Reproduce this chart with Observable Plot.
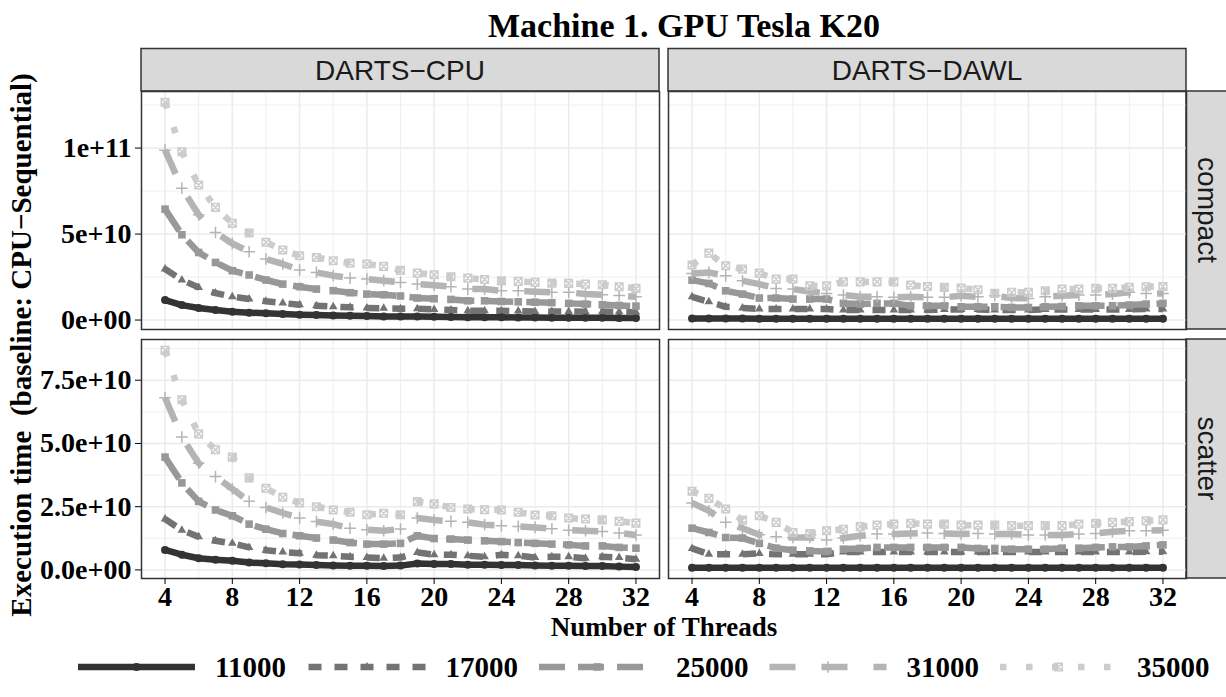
<!DOCTYPE html>
<html><head><meta charset="utf-8">
<script src="https://cdn.jsdelivr.net/npm/d3@7"></script>
<script src="https://cdn.jsdelivr.net/npm/@observablehq/plot@0.6"></script>
<style>
body{margin:0;background:#fff;}
#root{position:relative;width:1226px;height:697px;overflow:hidden;background:#fff;}
#root svg.panel{position:absolute;overflow:visible;background:transparent;}
#overlay{position:absolute;left:0;top:0;}
</style></head><body><div id="root"></div>
<script>
// ---------------- data (values in units of 1e9) ----------------
const threads = [4,5,6,7,8,9,10,11,12,13,14,15,16,17,18,19,20,21,22,23,24,25,26,27,28,29,30,31,32];
const sizes = ["11000","17000","25000","31000","35000"];
const facets = ["DARTS\u2212CPU","DARTS\u2212DAWL"];
const rows = ["compact","scatter"];

const cpuCompact11000 = [11.6,8.7,7.0,5.8,4.8,4.3,3.9,3.5,3.1,2.9,2.7,2.5,2.3,2.1,2.1,2.0,1.9,1.8,1.7,1.7,1.6,1.5,1.5,1.4,1.4,1.3,1.3,1.2,1.2];
const cpuCompact17000 = [29.7,23.3,19.0,15.7,13.6,12.2,10.9,9.9,8.9,8.3,7.8,7.4,7.0,6.8,6.6,6.6,6.2,5.8,5.4,5.4,5.4,5.2,5.0,5.0,5.0,4.8,4.8,4.8,4.6];
const cpuCompact25000 = [64.5,49.6,39.3,33.5,28.7,26.2,23.3,20.9,19.4,18.0,17.1,15.9,15.1,14.7,14.0,12.8,12.4,12.0,11.2,11.2,10.8,10.6,10.4,10.1,9.7,9.3,8.9,8.5,8.1];
const cpuCompact31000 = [98.8,76.7,61.2,50.9,44.5,39.7,35.5,32.6,29.1,27.7,25.8,24.4,23.8,22.9,21.9,20.9,20.3,19.4,18.0,18.0,17.0,17.0,16.5,16.1,16.1,15.1,14.7,14.3,13.5];
const cpuCompact35000 = [126.6,97.9,78.5,65.5,56.2,50.6,45.2,40.7,37.4,36.4,34.5,33.1,32.6,31.2,28.9,27.3,26.3,25.2,24.4,23.6,22.8,22.5,21.9,21.5,21.3,20.9,20.5,19.4,18.4];

const dawlCompact11000 = [0.9,0.9,0.85,0.85,0.8,0.8,0.8,0.8,0.8,0.8,0.8,0.8,0.8,0.8,0.8,0.8,0.8,0.8,0.8,0.8,0.8,0.8,0.8,0.8,0.8,0.8,0.8,0.8,0.8];
const dawlCompact17000 = [13.5,10.6,7.7,7.0,6.4,6.4,6.4,6.4,6.4,5.8,5.8,5.8,5.8,5.8,5.8,6.2,6.2,6.2,5.8,5.8,5.8,6.2,6.2,6.2,6.2,6.2,6.2,6.4,6.4];
const dawlCompact25000 = [23.2,21.3,17.0,15.1,12.8,12.8,12.2,12.2,12.2,9.7,9.3,9.7,9.7,8.3,8.3,8.3,7.7,7.7,7.7,7.3,7.3,7.7,7.9,8.3,8.3,8.3,8.7,9.3,9.7];
const dawlCompact31000 = [27.1,27.7,25.7,22.8,20.9,18.4,18.0,16.6,15.5,14.5,13.5,13.5,13.2,13.5,13.2,13.2,14.1,13.5,14.1,12.8,12.6,13.5,14.1,14.5,14.5,15.1,16.1,15.5,15.5];
const dawlCompact35000 = [32.0,38.9,31.6,29.6,27.3,23.8,23.8,19.9,19.9,22.2,22.2,22.2,22.2,20.3,19.5,19.0,18.6,17.6,15.5,16.1,16.1,17.0,18.0,18.0,18.4,18.4,19.0,19.4,19.5];

const cpuScatter11000 = [7.9,6.0,4.6,4.0,3.6,2.9,2.6,2.2,2.1,1.9,1.7,1.6,1.6,1.5,1.7,2.5,2.3,2.3,2.0,2.0,1.9,1.9,1.7,1.6,1.6,1.5,1.5,1.3,1.2];
const cpuScatter17000 = [20.1,15.7,13.1,11.5,10.5,8.9,7.8,7.1,6.6,5.8,5.6,5.2,4.9,4.6,4.9,6.9,6.0,6.0,5.6,5.2,6.0,5.6,4.9,5.2,5.2,4.6,5.2,4.9,4.2];
const cpuScatter25000 = [44.6,34.4,27.1,23.7,21.4,18.1,16.1,14.4,13.5,12.6,11.8,10.8,10.2,10.2,10.5,13.5,12.4,12.2,11.8,11.5,11.2,10.8,10.5,10.2,9.9,9.5,9.5,8.9,8.6];
const cpuScatter31000 = [68.1,52.5,42.2,36.9,32.0,27.1,24.7,22.5,20.5,19.1,18.1,16.5,15.9,15.5,16.2,20.5,19.7,19.2,18.8,17.9,17.5,17.2,16.8,16.3,15.7,15.5,15.2,14.6,13.8];
const cpuScatter35000 = [86.8,67.3,53.8,47.5,44.6,36.4,32.3,28.7,26.5,25.0,23.7,22.8,21.8,22.4,21.8,27.0,26.1,24.7,24.1,23.8,23.7,22.8,21.7,21.4,20.5,20.1,19.8,19.2,18.5];

const dawlScatter11000 = [0.9,0.9,0.9,0.9,0.9,0.9,0.9,0.9,0.9,0.9,0.9,0.9,0.9,0.9,0.9,0.9,0.9,0.9,0.9,0.9,0.9,0.9,0.9,0.9,0.9,0.9,0.9,0.9,0.9];
const dawlScatter17000 = [8.5,6.2,6.2,6.2,6.5,6.2,6.2,6.2,6.2,7.1,7.1,7.1,7.1,7.1,7.1,7.1,7.1,7.1,7.1,7.1,7.1,7.1,7.1,7.1,7.1,7.1,7.1,7.2,7.2];
const dawlScatter25000 = [16.5,14.8,12.8,12.6,10.5,8.6,7.8,7.5,7.3,8.2,8.5,8.9,8.9,8.9,8.9,8.9,8.9,8.5,8.5,8.2,8.2,8.2,8.6,8.6,8.9,9.1,9.1,9.5,9.9];
const dawlScatter31000 = [26.5,23.4,18.8,16.5,13.9,13.1,12.8,12.8,11.8,12.6,13.5,14.2,14.2,14.4,14.6,14.4,14.2,14.4,14.2,14.2,13.8,13.8,13.8,14.2,14.4,15.1,15.5,15.5,15.7];
const dawlScatter35000 = [31.1,28.3,24.1,19.7,21.4,18.8,14.8,14.4,15.5,16.1,17.1,17.7,18.1,18.4,18.1,18.1,17.7,17.7,17.7,17.5,17.5,17.5,17.5,18.1,18.4,18.8,19.1,19.4,19.8];

// tick values and labels
const xTicks = [4,8,12,16,20,24,28,32];
const xMinor = [6,10,14,18,22,26,30];
const yTicksCompact = [0,5e10,1e11];
const yLabelsCompact = ["0e+00","5e+10","1e+11"];
const yMinorCompact = [2.5e10,7.5e10,1.25e11];
const yTicksScatter = [0,2.5e10,5e10,7.5e10];
const yLabelsScatter = ["0.0e+00","2.5e+10","5.0e+10","7.5e+10"];
const yMinorScatter = [1.25e10,3.75e10,6.25e10,8.75e10];

// ---------------- styles ----------------
const colors = ["#333333","#737373","#989898","#b4b4b4","#cccccc"];
const LW = 6.5;
const dashes = [null, `${2*LW},${2*LW}`, `${4*LW},${2*LW}`, `${4*LW},${4*LW}`, `${LW},${3*LW}`];
const SERIF = "'Liberation Serif','Times New Roman',serif";
const SANS = "'Liberation Sans',Arial,sans-serif";

const rad = s => Math.sqrt(s/Math.PI);
const symTri = {draw(c,s){const r=rad(s)*1.25;c.moveTo(0,-r);c.lineTo(r*0.866,r*0.5);c.lineTo(-r*0.866,r*0.5);c.closePath();}};
const symSq = {draw(c,s){const r=rad(s)*0.95;c.moveTo(-r,-r);c.lineTo(r,-r);c.lineTo(r,r);c.lineTo(-r,r);c.closePath();}};
const symPlus = {draw(c,s){const r=rad(s)*1.45;c.moveTo(-r,0);c.lineTo(r,0);c.moveTo(0,-r);c.lineTo(0,r);}};
const symSqX = {draw(c,s){const r=rad(s)*0.95;c.moveTo(-r,-r);c.lineTo(r,-r);c.lineTo(r,r);c.lineTo(-r,r);c.closePath();c.moveTo(-r,-r);c.lineTo(r,r);c.moveTo(r,-r);c.lineTo(-r,r);}};
const symbols = ["circle", symTri, symSq, symPlus, symSqX];
const filled = [true, true, true, false, false];

// ---------------- tables ----------------
const series = {
  "DARTS\u2212CPU|compact": [cpuCompact11000,cpuCompact17000,cpuCompact25000,cpuCompact31000,cpuCompact35000],
  "DARTS\u2212DAWL|compact": [dawlCompact11000,dawlCompact17000,dawlCompact25000,dawlCompact31000,dawlCompact35000],
  "DARTS\u2212CPU|scatter": [cpuScatter11000,cpuScatter17000,cpuScatter25000,cpuScatter31000,cpuScatter35000],
  "DARTS\u2212DAWL|scatter": [dawlScatter11000,dawlScatter17000,dawlScatter25000,dawlScatter31000,dawlScatter35000]
};
function table(key){
  const out=[];
  series[key].forEach((arr,si)=>arr.forEach((v,i)=>out.push({threads:threads[i], value:v*1e9, size:sizes[si]})));
  return out;
}
function expand(lo,hi){const r=hi-lo;return [lo-0.05*r, hi+0.05*r];}
const xDomain = expand(d3.min(threads), d3.max(threads));
const yDomains = {};
rows.forEach(r=>{
  const all = facets.flatMap(f=>table(f+"|"+r));
  yDomains[r] = expand(d3.min(all,d=>d.value), d3.max(all,d=>d.value));
});

// ---------------- layout ----------------
const root = document.getElementById("root");
const panelX = {"DARTS\u2212CPU":141, "DARTS\u2212DAWL":668};
const panelY = {compact:91, scatter:339};
const PW = 518, PH = {compact:238, scatter:239};

// overlay (title, strips, axis titles, legend)
const ov = d3.select(root).append("svg").attr("id","overlay").attr("width",1226).attr("height",697);
ov.append("text").attr("x",684).attr("y",37).attr("text-anchor","middle")
  .attr("font-family",SERIF).attr("font-weight","bold").attr("font-size",34).attr("fill","#000")
  .text("Machine 1. GPU Tesla K20");
facets.forEach(f=>{
  ov.append("rect").attr("x",panelX[f]).attr("y",48.5).attr("width",PW).attr("height",42.5)
    .attr("fill","#d9d9d9").attr("stroke","#333").attr("stroke-width",1.5);
  ov.append("text").attr("x",panelX[f]+PW/2).attr("y",70).attr("text-anchor","middle").attr("dominant-baseline","central")
    .attr("font-family",SANS).attr("font-size",28).attr("fill","#1a1a1a").text(f);
});
rows.forEach(r=>{
  ov.append("rect").attr("x",1186).attr("y",panelY[r]).attr("width",42).attr("height",PH[r])
    .attr("fill","#d9d9d9").attr("stroke","#333").attr("stroke-width",1.5);
  const cx=1207, cy=panelY[r]+PH[r]/2;
  ov.append("text").attr("transform",`translate(${cx},${cy}) rotate(90)`).attr("text-anchor","middle").attr("dominant-baseline","central")
    .attr("font-family",SANS).attr("font-size",28).attr("fill","#1a1a1a").text(r);
});
ov.append("text").attr("x",664).attr("y",636).attr("text-anchor","middle")
  .attr("font-family",SERIF).attr("font-weight","bold").attr("font-size",27).attr("fill","#000")
  .text("Number of Threads");
ov.append("text").attr("transform","translate(21,345) rotate(-90)").attr("text-anchor","middle").attr("dominant-baseline","central")
  .attr("font-family",SERIF).attr("font-weight","bold").attr("font-size",29).attr("fill","#000")
  .style("white-space","pre").text("Execution time  (baseline: CPU\u2212Sequential)");

// legend
sizes.forEach((s,i)=>{
  const x0 = 78 + i*230.5, y0 = 667;
  const g = ov.append("g");
  const ln = g.append("line").attr("x1",x0).attr("x2",x0+117).attr("y1",y0).attr("y2",y0)
    .attr("stroke",colors[i]).attr("stroke-width",LW).attr("stroke-linecap","butt");
  if (dashes[i]) ln.attr("stroke-dasharray",dashes[i]);
  const sym = typeof symbols[i]==="string" ? d3.symbolCircle : symbols[i];
  const p = g.append("path").attr("transform",`translate(${x0+58.5},${y0})`).attr("d",d3.symbol(sym, Math.PI*16)());
  if (filled[i]) p.attr("fill",colors[i]); else p.attr("fill","none").attr("stroke",colors[i]).attr("stroke-width",1.5);
  g.append("text").attr("x",x0+137).attr("y",y0).attr("dominant-baseline","central")
    .attr("font-family",SERIF).attr("font-weight","bold").attr("font-size",29).attr("fill","#000").text(s);
});

// panels
function panel(f, r){
  const data = table(f+"|"+r);
  const showY = f===facets[0], showX = r==="scatter";
  const ml = showY?141:2, mr=2, mt=2, mb = showX?40:2;
  const yT = r==="compact"?yTicksCompact:yTicksScatter;
  const yL = r==="compact"?yLabelsCompact:yLabelsScatter;
  const yM = r==="compact"?yMinorCompact:yMinorScatter;
  const labelMap = new Map(yT.map((t,i)=>[t,yL[i]]));
  const marks = [
    Plot.ruleX(xMinor,{stroke:"#ebebeb",strokeWidth:0.8}),
    Plot.ruleY(yM,{stroke:"#ebebeb",strokeWidth:0.8}),
    Plot.ruleX(xTicks,{stroke:"#ebebeb",strokeWidth:1.5}),
    Plot.ruleY(yT,{stroke:"#ebebeb",strokeWidth:1.5}),
  ];
  sizes.forEach((s,i)=>{
    const o = {x:"threads", y:"value", stroke:colors[i], strokeWidth:LW, strokeLinecap:"butt", strokeLinejoin:"round"};
    if (dashes[i]) o.strokeDasharray = dashes[i];
    marks.push(Plot.line(data.filter(d=>d.size===s), o));
  });
  sizes.forEach((s,i)=>{
    const o = {x:"threads", y:"value", symbol:symbols[i], r:4};
    if (filled[i]) { o.fill = colors[i]; o.stroke = "none"; }
    else { o.fill = "none"; o.stroke = colors[i]; o.strokeWidth = 1.5; }
    marks.push(Plot.dot(data.filter(d=>d.size===s), o));
  });
  marks.push(Plot.frame({stroke:"#333", strokeWidth:1.5}));
  if (showY) marks.push(Plot.axisY(yT,{tickSize:6, tickPadding:4, tickFormat:d=>labelMap.get(d), label:null,
      fontSize:28, fontFamily:SERIF, fontWeight:"bold", color:"#000"}));
  if (showX) marks.push(Plot.axisX(xTicks,{tickSize:6, tickPadding:2, tickFormat:d=>String(d), label:null,
      fontSize:28, fontFamily:SERIF, fontWeight:"bold", color:"#000"}));
  const chart = Plot.plot({
    width: PW+ml+mr, height: PH[r]+mt+mb,
    marginLeft:ml, marginRight:mr, marginTop:mt, marginBottom:mb,
    x:{domain:xDomain, axis:null}, y:{domain:yDomains[r], axis:null},
    style:{background:"transparent", overflow:"visible", color:"#000"},
    marks
  });
  chart.classList.add("panel");
  chart.style.position="absolute";
  chart.style.left = (panelX[f]-ml)+"px";
  chart.style.top = (panelY[r]-mt)+"px";
  root.appendChild(chart);
}
rows.forEach(r=>facets.forEach(f=>panel(f,r)));
</script></body></html>
